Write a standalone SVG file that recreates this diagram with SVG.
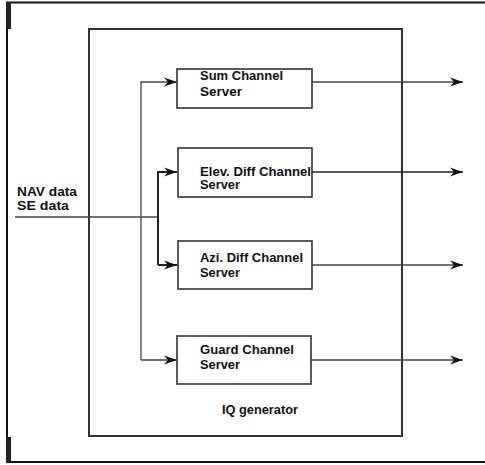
<svg xmlns="http://www.w3.org/2000/svg" width="485" height="465" viewBox="0 0 485 465">
<defs>
<marker id="ah" markerWidth="14" markerHeight="10" viewBox="0 0 14 10" refX="13" refY="5" orient="auto" markerUnits="userSpaceOnUse">
<path d="M0,0.5 L13,5 L0,9.5 L4,5 Z" fill="#111"/>
</marker>
<style>
.frame{stroke:#111;stroke-width:2;fill:none}
.bar{fill:#222}
.box{fill:#fff;stroke:#333;stroke-width:1.6}
.outer{fill:none;stroke:#333;stroke-width:2}
.ln{fill:none;stroke:#444;stroke-width:1.3}
.lnd{fill:none;stroke:#222;stroke-width:2}
.t{font-family:"Liberation Sans",Arial,sans-serif;font-weight:bold;font-size:12px;fill:#111}
</style>
</defs>
<rect width="485" height="465" fill="#fff"/>
<g id="frame">
<path class="frame" d="M6,2.5 H485 M7,2 V462 M6,462 H485"/>
<rect class="bar" x="6" y="2" width="5" height="27"/>
<rect class="bar" x="6" y="437" width="5" height="25"/>
</g>
<g id="iq-generator">
<rect class="outer" x="89" y="29" width="313" height="407"/>
<text class="t" x="222" y="414" textLength="76" lengthAdjust="spacingAndGlyphs">IQ generator</text>
</g>
<g id="connectors">
<path class="ln" d="M15,217 H158"/>
<path class="ln" d="M141,360 V82 H177" marker-end="url(#ah)"/>
<path class="ln" d="M141,360 H177" marker-end="url(#ah)"/>
<path class="lnd" d="M158,265 V172 H177" marker-end="url(#ah)"/>
<path class="lnd" d="M158,265 H177" marker-end="url(#ah)"/>
<path class="ln" d="M312,82 H463" marker-end="url(#ah)"/>
<path class="lnd" d="M312,172 H463" marker-end="url(#ah)" style="stroke-width:1.6"/>
<path class="ln" d="M312,265 H463" marker-end="url(#ah)"/>
<path class="ln" d="M311,360 H463" marker-end="url(#ah)"/>
</g>
<g id="input-label">
<text class="t" x="17" y="196" textLength="60" lengthAdjust="spacingAndGlyphs">NAV data</text>
<text class="t" x="17" y="210" textLength="52" lengthAdjust="spacingAndGlyphs">SE data</text>
</g>
<g id="sum-channel-server">
<rect class="box" x="177" y="69" width="135" height="39"/>
<text class="t" x="200" y="80" textLength="83" lengthAdjust="spacingAndGlyphs">Sum Channel</text>
<text class="t" x="200" y="96" textLength="42" lengthAdjust="spacingAndGlyphs">Server</text>
</g>
<g id="elev-diff-channel-server">
<rect class="box" x="178" y="148" width="134" height="49"/>
<text class="t" x="200" y="176" textLength="111" lengthAdjust="spacingAndGlyphs">Elev. Diff Channel</text>
<text class="t" x="200" y="189" textLength="40" lengthAdjust="spacingAndGlyphs">Server</text>
</g>
<g id="azi-diff-channel-server">
<rect class="box" x="178" y="241" width="134" height="48"/>
<text class="t" x="200" y="262" textLength="103" lengthAdjust="spacingAndGlyphs">Azi. Diff Channel</text>
<text class="t" x="200" y="277" textLength="40" lengthAdjust="spacingAndGlyphs">Server</text>
</g>
<g id="guard-channel-server">
<rect class="box" x="177" y="336" width="134" height="48"/>
<text class="t" x="200" y="354" textLength="94" lengthAdjust="spacingAndGlyphs">Guard Channel</text>
<text class="t" x="200" y="369" textLength="40" lengthAdjust="spacingAndGlyphs">Server</text>
</g>
</svg>
